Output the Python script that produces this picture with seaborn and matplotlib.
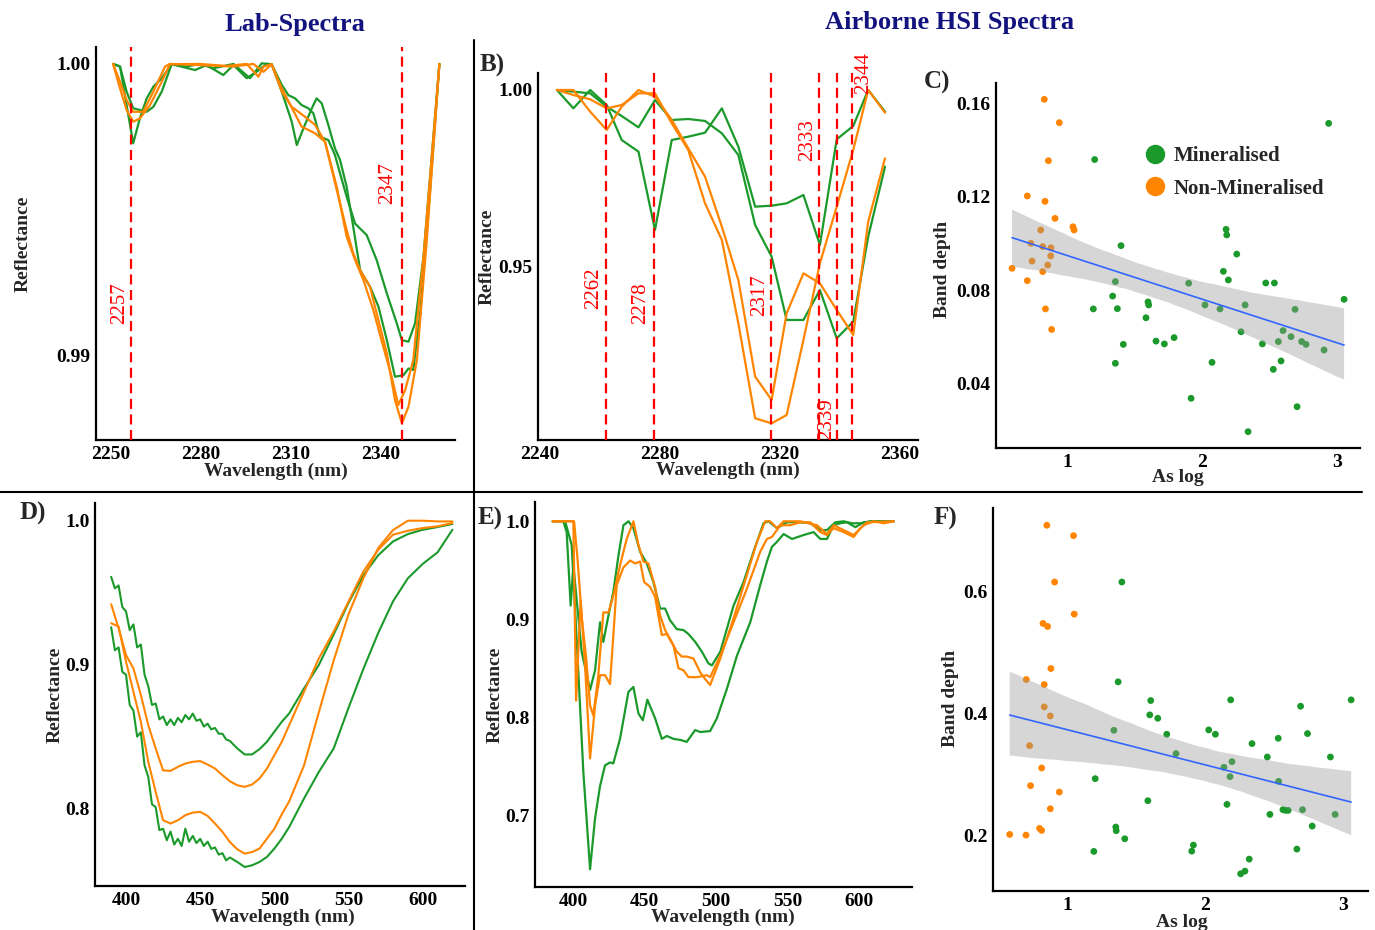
import matplotlib
matplotlib.use("Agg")
import matplotlib.pyplot as plt
from matplotlib.lines import Line2D
import numpy as np
import pandas as pd
import seaborn as sns

sns.set_style("white")
plt.rcParams["font.family"] = ["Liberation Serif", "DejaVu Serif"]
plt.rcParams["font.weight"] = "bold"
plt.rcParams["axes.labelweight"] = "bold"

GREEN = "#1b9a2b"
ORANGE = "#ff8500"
RED = "#ff0000"
NAVY = "#13137f"
BLUE = "#3366ff"

# ---------------- Panel A: lab spectra, SWIR (wavelength nm, reflectance) ----------------
A_GREEN_1 = [(2250.9, 0.99998), (2253.2, 0.99989), (2255.4, 0.99857), (2257.6, 0.99726), (2259.8, 0.99811),
             (2262.1, 0.99880), (2264.3, 0.99920), (2267.1, 0.99949), (2270.4, 0.99997), (2278.2, 0.99977),
             (2282.0, 0.99994), (2287.6, 0.99960), (2291.0, 0.99994), (2295.4, 0.99949), (2298.7, 0.99971),
             (2302.1, 0.99998), (2303.7, 0.99997), (2307.1, 0.99903), (2310.4, 0.99800), (2312.1, 0.99720),
             (2314.3, 0.99777), (2317.1, 0.99846), (2318.7, 0.99880), (2320.4, 0.99863), (2322.6, 0.99789),
             (2324.8, 0.99709), (2326.5, 0.99669), (2328.7, 0.99577), (2330.9, 0.99440), (2333.2, 0.99291),
             (2336.5, 0.99234), (2339.3, 0.99166), (2342.1, 0.99051), (2344.8, 0.98926), (2347.6, 0.98931),
             (2349.3, 0.98954), (2350.9, 0.98949), (2353.2, 0.99143), (2356.5, 0.99566), (2359.6, 0.99998)]
A_GREEN_2 = [(2250.9, 0.99998), (2253.2, 0.99989), (2255.4, 0.99903), (2257.6, 0.99846), (2262.1, 0.99834),
             (2264.3, 0.99851), (2267.1, 0.99903), (2270.4, 0.99997), (2275.4, 0.99989), (2279.8, 0.99998),
             (2284.3, 0.99983), (2291.0, 0.99998), (2296.5, 0.99949), (2298.2, 0.99971), (2300.4, 1.00000),
             (2303.7, 0.99997), (2307.1, 0.99926), (2309.3, 0.99891), (2311.5, 0.99880), (2313.7, 0.99857),
             (2315.9, 0.99846), (2317.6, 0.99829), (2319.8, 0.99749), (2322.6, 0.99737), (2324.8, 0.99686),
             (2326.5, 0.99623), (2328.7, 0.99543), (2331.5, 0.99451), (2335.4, 0.99411), (2338.7, 0.99326),
             (2342.1, 0.99211), (2345.4, 0.99109), (2347.1, 0.99051), (2349.3, 0.99046), (2351.5, 0.99109),
             (2354.3, 0.99337), (2359.6, 0.99998)]
A_ORANGE_1 = [(2250.9, 0.99998), (2253.2, 0.99914), (2255.4, 0.99840), (2257.6, 0.99800), (2259.8, 0.99811),
              (2263.2, 0.99857), (2267.1, 0.99937), (2269.8, 0.99997), (2279.8, 0.99998), (2288.7, 0.99991),
              (2295.4, 0.99998), (2299.3, 0.99954), (2301.0, 0.99989), (2303.7, 0.99997), (2307.1, 0.99903),
              (2310.4, 0.99851), (2314.8, 0.99817), (2318.2, 0.99789), (2321.5, 0.99731), (2325.4, 0.99577),
              (2328.7, 0.99406), (2331.5, 0.99326), (2334.3, 0.99257), (2337.6, 0.99154), (2340.9, 0.99029),
              (2343.7, 0.98926), (2345.9, 0.98829), (2348.2, 0.98880), (2350.9, 0.98983), (2354.3, 0.99337),
              (2359.6, 0.99998)]
A_ORANGE_2 = [(2250.9, 0.99998), (2253.2, 0.99937), (2255.4, 0.99874), (2257.6, 0.99834), (2260.9, 0.99834),
              (2264.3, 0.99903), (2268.2, 0.99989), (2269.8, 0.99998), (2279.8, 0.99994), (2291.0, 0.99989),
              (2297.6, 0.99998), (2301.0, 0.99971), (2303.7, 0.99997), (2307.1, 0.99914), (2313.7, 0.99783),
              (2318.2, 0.99760), (2321.5, 0.99731), (2325.4, 0.99566), (2328.7, 0.99429), (2330.9, 0.99349),
              (2333.2, 0.99291), (2336.5, 0.99234), (2338.7, 0.99143), (2342.1, 0.99006), (2344.8, 0.98846),
              (2347.1, 0.98766), (2349.3, 0.98823), (2352.1, 0.98983), (2355.4, 0.99394), (2359.6, 0.99998)]
A_FEATURES = [2257, 2347]

# ---------------- Panel B: airborne HSI spectra, SWIR ----------------
B_WL = [2245.6, 2251.1, 2256.7, 2262.2, 2267.2, 2272.8, 2278.3, 2283.9, 2289.4, 2295.0, 2300.6,
        2306.1, 2311.7, 2317.2, 2322.2, 2327.8, 2333.3, 2338.9, 2344.4, 2349.4, 2355.0]
B_GREEN_1 = [1.0, 0.99481, 1.0, 0.99575, 0.98585, 0.98255, 0.96038, 0.98585, 0.98679, 0.98792, 0.99481,
             0.98396, 0.96698, 0.96726, 0.96792, 0.97028, 0.95613, 0.98604, 0.98981, 1.0, 0.99387]
B_GREEN_2 = [1.0, 0.99953, 0.99906, 0.99528, 0.99264, 0.98943, 0.99717, 0.99151, 0.99179, 0.99123, 0.98774,
             0.98160, 0.96179, 0.95283, 0.93491, 0.93491, 0.94340, 0.92972, 0.93443, 0.95849, 0.97830]
B_ORANGE_1 = [1.0, 1.0, 0.99387, 0.98868, 0.99528, 1.0, 0.99811, 0.99151, 0.98349, 0.97547, 0.96132,
              0.94623, 0.91887, 0.91226, 0.93679, 0.94811, 0.94528, 0.93774, 0.93066, 0.96274, 0.98066]
B_ORANGE_2 = [1.0, 0.99858, 0.99736, 0.99481, 0.99575, 0.99906, 0.99906, 0.99057, 0.98302, 0.96792, 0.95755,
              0.93396, 0.90708, 0.90566, 0.90802, 0.92925, 0.95094, 0.96698, 0.98302, 1.0, 0.99358]
B_FEATURES = [2262, 2278, 2317, 2333, 2339, 2344]

# ---------------- Panels C and F: band depth vs As log ----------------
C_GREEN_X = [2.938, 1.205, 2.178, 2.183, 1.4, 2.257, 2.158, 2.195, 1.358, 1.901, 2.472, 2.536, 1.338, 3.052,
             1.6, 1.605, 2.022, 2.319, 1.195, 1.373, 2.133, 2.689, 1.585, 2.289, 2.6, 2.659, 1.793, 1.659,
             2.565, 2.738, 2.77, 1.721, 1.417, 2.447, 2.904, 1.358, 2.074, 2.585, 2.528, 1.919, 2.704, 2.341]
C_GREEN_Y = [0.1514, 0.1359, 0.106, 0.1036, 0.099, 0.0954, 0.088, 0.0843, 0.0836, 0.0829, 0.083, 0.083,
             0.0774, 0.076, 0.0749, 0.0736, 0.0736, 0.0736, 0.0719, 0.072, 0.0719, 0.0717, 0.0681, 0.0621,
             0.0626, 0.06, 0.0596, 0.0581, 0.0579, 0.0579, 0.0567, 0.0569, 0.0567, 0.0569, 0.0543, 0.0486,
             0.049, 0.0496, 0.046, 0.0336, 0.03, 0.0193]
C_ORANGE_X = [0.832, 0.943, 0.862, 0.706, 0.837, 0.911, 1.044, 1.052, 0.805, 0.733, 0.82, 0.881, 0.879,
              0.741, 0.857, 0.593, 0.82, 0.706, 0.84, 0.886]
C_ORANGE_Y = [0.1617, 0.1517, 0.1354, 0.1203, 0.118, 0.1107, 0.1071, 0.1057, 0.1057, 0.1, 0.0986, 0.0981,
              0.0946, 0.0924, 0.0907, 0.0893, 0.0879, 0.084, 0.0719, 0.0631]

F_GREEN_X = [1.398, 1.371, 1.607, 2.186, 3.058, 2.692, 1.6, 1.658, 1.34, 2.027, 1.723, 2.075, 2.742, 2.53,
             2.34, 1.79, 2.451, 2.908, 2.195, 2.137, 2.181, 1.205, 2.533, 1.586, 2.159, 2.564, 2.583, 2.602,
             2.706, 2.47, 2.942, 2.776, 1.354, 1.357, 1.419, 1.916, 1.195, 1.904, 2.665, 2.32, 2.289, 2.258]
F_GREEN_Y = [0.6148, 0.4514, 0.4208, 0.4219, 0.4219, 0.4115, 0.3973, 0.3918, 0.3721, 0.3727, 0.3656,
             0.3656, 0.3667, 0.359, 0.3503, 0.3339, 0.3284, 0.3284, 0.3208, 0.3115, 0.2962, 0.2929, 0.2885,
             0.2568, 0.2508, 0.2421, 0.241, 0.241, 0.2421, 0.2344, 0.2344, 0.2153, 0.2137, 0.2077, 0.1945,
             0.1842, 0.1738, 0.1743, 0.1776, 0.1612, 0.1415, 0.1372]
F_ORANGE_X = [0.855, 1.048, 0.911, 1.053, 0.827, 0.86, 0.884, 0.706, 0.836, 0.836, 0.88, 0.73, 0.817,
              0.737, 0.945, 0.88, 0.802, 0.817, 0.586, 0.704]
F_ORANGE_Y = [0.7077, 0.6907, 0.6148, 0.5623, 0.547, 0.5421, 0.4732, 0.4552, 0.447, 0.4104, 0.3956, 0.347,
              0.3104, 0.2814, 0.271, 0.2437, 0.2115, 0.2082, 0.2016, 0.2005]

# ---------------- Panel D: lab spectra, VNIR ----------------
D_WL_GREEN = [390, 392.5, 395, 397.5, 400, 402.5, 405, 407.5, 410, 412.5, 415, 417.5, 420, 422.5, 425, 427.5,
              430, 432.5, 435, 437.5, 440, 442.5, 445, 447.5, 450, 452.5, 455, 457.5, 460, 462.5, 465, 467.5,
              470, 475, 480, 485, 490, 495, 500, 505, 510, 520, 530, 540, 550, 560, 570, 580, 590, 600, 610, 620]
D_GREEN_1 = [0.961, 0.953, 0.955, 0.940, 0.937, 0.924, 0.928, 0.912, 0.914, 0.893, 0.885, 0.872, 0.873,
             0.862, 0.864, 0.858, 0.862, 0.858, 0.863, 0.860, 0.865, 0.862, 0.866, 0.861, 0.862, 0.857, 0.859,
             0.855, 0.856, 0.852, 0.852, 0.848, 0.847,
             0.8418, 0.8376, 0.8376, 0.8413, 0.8464, 0.8534, 0.8603, 0.8661, 0.8835, 0.8998, 0.9210, 0.9430,
             0.9620, 0.9760, 0.9856, 0.9907, 0.9937, 0.9956, 0.9977]
D_GREEN_2 = [0.926, 0.910, 0.912, 0.895, 0.893, 0.872, 0.868, 0.850, 0.853, 0.830, 0.822, 0.803, 0.801,
             0.785, 0.786, 0.778, 0.784, 0.775, 0.779, 0.774, 0.786, 0.777, 0.781, 0.776, 0.779, 0.774, 0.777,
             0.772, 0.773, 0.768, 0.769, 0.764, 0.766,
             0.7629, 0.7594, 0.7606, 0.7629, 0.7664, 0.7722, 0.7791, 0.7872, 0.8070, 0.8255, 0.8418, 0.8700,
             0.8970, 0.9220, 0.9440, 0.9600, 0.9700, 0.9780, 0.9937]
D_WL_ORANGE = [390, 395, 400, 405, 410, 415, 420, 425, 430, 435, 440, 445, 450, 455, 460, 465, 470, 475, 480,
               485, 490, 495, 500, 505, 510, 520, 530, 540, 550, 560, 570, 580, 590, 600, 610, 620]
D_ORANGE_1 = [0.9420, 0.9253, 0.9067, 0.8974, 0.8789, 0.8580, 0.8418, 0.8265, 0.8262, 0.8290, 0.8313, 0.8325,
              0.8330, 0.8306, 0.8278, 0.8232, 0.8190, 0.8162, 0.8151, 0.8167, 0.8209, 0.8278, 0.8371, 0.8464,
              0.8580, 0.8812, 0.9044, 0.9230, 0.9439, 0.9647, 0.9798, 0.9903, 0.9930, 0.9949, 0.9961, 0.9984]
D_ORANGE_2 = [0.9288, 0.9265, 0.9021, 0.8812, 0.8603, 0.8325, 0.8116, 0.7919, 0.7896, 0.7919, 0.7954, 0.7972,
              0.7977, 0.7949, 0.7896, 0.7838, 0.7768, 0.7717, 0.7687, 0.7698, 0.7722, 0.7791, 0.7860, 0.7960,
              0.8050, 0.8300, 0.8670, 0.9030, 0.9350, 0.9600, 0.9810, 0.9935, 1.0000, 1.0000, 0.9995, 0.9995]

# ---------------- Panel E: airborne HSI spectra, VNIR ----------------
E_GREEN_1 = [(385.5, 1.0), (393.0, 1.0), (395.3, 0.989), (398.1, 0.914), (400.0, 0.955), (405.8, 0.867),
             (411.7, 0.828), (415.2, 0.848), (418.7, 0.897), (421.0, 0.877), (424.6, 0.904), (428.0, 0.928),
             (431.6, 0.965), (435.1, 0.996), (438.6, 1.0), (442.1, 0.993), (446.8, 0.969), (451.5, 0.957),
             (456.1, 0.938), (460.8, 0.911), (464.3, 0.911), (467.8, 0.899), (472.5, 0.890), (477.2, 0.889),
             (480.7, 0.885), (485.4, 0.877), (490.1, 0.867), (494.7, 0.855), (497.1, 0.853), (503.0, 0.867),
             (512.3, 0.914), (519.3, 0.938), (526.3, 0.969), (533.3, 0.998), (536.8, 1.0), (542.7, 0.993),
             (549.7, 0.999), (559.1, 0.999), (566.1, 0.998), (573.1, 0.991), (577.8, 0.991), (583.6, 0.999),
             (589.5, 1.0), (595.3, 0.998), (601.2, 0.998), (608.2, 1.0), (624.6, 1.0)]
E_GREEN_2 = [(385.5, 1.0), (394.2, 1.0), (398.8, 0.976), (402.3, 0.880), (407.0, 0.744), (411.7, 0.645),
             (415.2, 0.697), (418.7, 0.730), (422.2, 0.751), (425.7, 0.754), (428.0, 0.753), (432.7, 0.778),
             (438.6, 0.826), (442.1, 0.831), (445.6, 0.804), (448.7, 0.797), (451.9, 0.818), (457.3, 0.799),
             (462.0, 0.778), (465.5, 0.781), (470.2, 0.778), (474.9, 0.777), (479.5, 0.775), (485.4, 0.787),
             (488.9, 0.785), (495.9, 0.786), (500.6, 0.799), (507.6, 0.829), (514.7, 0.863), (524.0, 0.897),
             (531.0, 0.935), (535.7, 0.959), (539.2, 0.974), (542.7, 0.979), (547.4, 0.987), (553.3, 0.982),
             (561.4, 0.986), (568.4, 0.989), (573.1, 0.982), (577.8, 0.982), (582.5, 0.996), (587.1, 0.998),
             (591.8, 0.999), (597.7, 0.994), (603.5, 0.999), (610.5, 1.0), (624.6, 1.0)]
E_ORANGE_1 = [(385.5, 1.0), (400.5, 1.0), (403.0, 0.960), (406.0, 0.900), (409.0, 0.860), (411.7, 0.812),
              (414.0, 0.802), (417.5, 0.843), (421.0, 0.907), (424.6, 0.907), (428.0, 0.924), (432.7, 0.955),
              (437.4, 0.982), (442.1, 1.0), (445.6, 0.976), (449.1, 0.959), (452.6, 0.957), (457.3, 0.933),
              (460.8, 0.904), (464.3, 0.889), (467.8, 0.880), (472.5, 0.867), (476.0, 0.862), (479.5, 0.862),
              (484.2, 0.860), (488.9, 0.846), (492.4, 0.839), (495.9, 0.833), (503.0, 0.860), (512.3, 0.901),
              (521.6, 0.945), (528.7, 0.979), (534.5, 1.0), (538.0, 1.0), (542.7, 0.993), (547.4, 1.0),
              (559.1, 1.0), (570.8, 0.996), (577.8, 0.987), (582.5, 0.996), (589.5, 0.991), (596.5, 0.986),
              (603.5, 0.996), (610.5, 1.0), (617.5, 0.998), (624.6, 1.0)]
E_ORANGE_2 = [(385.5, 1.0), (400.0, 1.0), (401.9, 0.817), (405.1, 0.919), (408.2, 0.853), (411.7, 0.758),
              (415.2, 0.812), (418.7, 0.843), (422.2, 0.843), (425.7, 0.834), (430.4, 0.935), (435.1, 0.953),
              (439.8, 0.960), (443.3, 0.957), (446.8, 0.959), (449.6, 0.938), (453.8, 0.933), (457.3, 0.923),
              (462.0, 0.884), (465.5, 0.885), (470.2, 0.873), (473.7, 0.850), (477.2, 0.848), (480.7, 0.841),
              (486.6, 0.841), (493.6, 0.843), (495.9, 0.841), (503.0, 0.863), (512.3, 0.897), (521.6, 0.931),
              (531.0, 0.969), (535.7, 0.982), (539.2, 0.984), (545.1, 0.996), (552.0, 0.996), (559.1, 0.999),
              (566.1, 0.999), (573.1, 0.989), (577.8, 0.986), (582.5, 0.993), (589.5, 0.989), (596.5, 0.984),
              (601.2, 0.993), (605.9, 0.999), (624.6, 1.0)]

# ------------------------------------------------------------------------------------------
W, H = 1375, 930
fig = plt.figure(figsize=(W / 100, H / 100), dpi=100)


def px_axes(left, top, right, bottom):
    return fig.add_axes([left / W, 1 - bottom / H, (right - left) / W, (bottom - top) / H])


def spectra_frame(curves):
    rows = []
    for name, pairs in curves.items():
        for wl, r in pairs:
            rows.append((name, wl, r))
    return pd.DataFrame(rows, columns=["curve", "wl", "refl"])


def draw_spectra(ax, curves, colors, lw=1.6):
    df = spectra_frame(curves)
    sns.lineplot(data=df, x="wl", y="refl", hue="curve", hue_order=list(curves), palette=colors,
                 estimator=None, sort=False, legend=False, lw=lw, ax=ax)


def style(ax, xlim, ylim, xticks, xlabels, yticks, ylabels, xlab, ylab, xlc, ylc):
    ax.set_xlim(*xlim)
    ax.set_ylim(*ylim)
    ax.set_xticks(xticks)
    ax.set_xticklabels(xlabels)
    ax.set_yticks(yticks)
    ax.set_yticklabels(ylabels)
    for s in ["top", "right"]:
        ax.spines[s].set_visible(False)
    for s in ["left", "bottom"]:
        ax.spines[s].set_linewidth(1.6)
        ax.spines[s].set_color("black")
    ax.tick_params(axis="both", length=2.5, width=1, colors="black", labelsize=14, pad=1.5)
    ax.set_xlabel(xlab, fontsize=14, fontweight="bold", va="center")
    ax.set_ylabel(ylab, fontsize=14, fontweight="bold", va="center")
    ax.xaxis.set_label_coords(*xlc)
    ax.yaxis.set_label_coords(*ylc)
    ax.set_facecolor("white")
    ax.grid(False)


dash = (0, (4.5, 2.5))
COLORS4 = {"g1": GREEN, "g2": GREEN, "o1": ORANGE, "o2": ORANGE}

# ---- Panel A ----
axA = px_axes(96, 47, 455, 440)
draw_spectra(axA, {"g1": A_GREEN_1, "g2": A_GREEN_2, "o1": A_ORANGE_1, "o2": A_ORANGE_2}, COLORS4)
for v in A_FEATURES:
    axA.axvline(v, color=RED, lw=1.6, ls=dash, zorder=3)
axA.text(2253.2, 0.99178, "2257", rotation=90, color=RED, fontsize=15, fontweight="normal",
         ha="center", va="center")
axA.text(2342.2, 0.99589, "2347", rotation=90, color=RED, fontsize=15, fontweight="normal",
         ha="center", va="center")
style(axA, (2245.2, 2364.8), (0.98709, 1.00056), [2250, 2280, 2310, 2340],
      ["2250", "2280", "2310", "2340"], [0.99, 1.00], ["0.99", "1.00"],
      "Wavelength (nm)", "Reflectance", (0.5, -0.079), (-0.203, 0.5))

# ---- Panel B ----
axB = px_axes(538, 73, 918, 440)
draw_spectra(axB, {"g1": list(zip(B_WL, B_GREEN_1)), "g2": list(zip(B_WL, B_GREEN_2)),
                   "o1": list(zip(B_WL, B_ORANGE_1)), "o2": list(zip(B_WL, B_ORANGE_2))}, COLORS4)
for v in B_FEATURES:
    axB.axvline(v, color=RED, lw=1.6, ls=dash, zorder=3)
b_label_pos = {"2262": (2257.7, 0.944), "2278": (2273.6, 0.9396), "2317": (2313.3, 0.942),
               "2333": (2329.1, 0.9858), "2339": (2335.6, 0.9068), "2344": (2347.8, 1.0047)}
for txt, (lx, ly) in b_label_pos.items():
    axB.text(lx, ly, txt, rotation=90, color=RED, fontsize=15, fontweight="normal",
             ha="center", va="center", clip_on=False)
style(axB, (2239.3, 2366.0), (0.90094, 1.00481), [2240, 2280, 2320, 2360],
      ["2240", "2280", "2320", "2360"], [0.95, 1.00], ["0.95", "1.00"],
      "Wavelength (nm)", "Reflectance", (0.5, -0.082), (-0.134, 0.499))


# ---- Panels C and F ----
def draw_scatter(ax, gx, gy, ox, oy):
    df = pd.DataFrame({"as_log": list(gx) + list(ox), "depth": list(gy) + list(oy),
                       "group": ["Mineralised"] * len(gx) + ["Non-Mineralised"] * len(ox)})
    sns.scatterplot(data=df, x="as_log", y="depth", hue="group",
                    hue_order=["Mineralised", "Non-Mineralised"],
                    palette={"Mineralised": GREEN, "Non-Mineralised": ORANGE},
                    s=24, linewidth=0, legend=False, ax=ax)
    n_before = len(ax.collections)
    sns.regplot(data=df, x="as_log", y="depth", scatter=False, ci=95, n_boot=2000, seed=7,
                color=BLUE, line_kws=dict(lw=1.2), ax=ax)
    for coll in ax.collections[n_before:]:
        coll.set_facecolor("#999999")
        coll.set_edgecolor("none")
        coll.set_alpha(0.4)


axC = px_axes(996, 83, 1360, 448)
draw_scatter(axC, C_GREEN_X, C_GREEN_Y, C_ORANGE_X, C_ORANGE_Y)
style(axC, (0.474, 3.17), (0.0123, 0.1687), [1, 2, 3], ["1", "2", "3"],
      [0.04, 0.08, 0.12, 0.16], ["0.04", "0.08", "0.12", "0.16"],
      "As log", "Band depth", (0.5, -0.082), (-0.148, 0.488))
handles = [Line2D([], [], ls="none", marker="o", ms=14, mfc=GREEN, mec="none", label="Mineralised"),
           Line2D([], [], ls="none", marker="o", ms=14, mfc=ORANGE, mec="none", label="Non-Mineralised")]
axC.legend(handles=handles, loc="upper left", bbox_to_anchor=(0.409, 0.827), frameon=False,
           prop={"size": 15, "weight": "bold"}, handlelength=1.0, handletextpad=0.4,
           labelspacing=0.6, borderpad=0, borderaxespad=0)

axF = px_axes(993, 508, 1368, 891)
draw_scatter(axF, F_GREEN_X, F_GREEN_Y, F_ORANGE_X, F_ORANGE_Y)
style(axF, (0.465, 3.18), (0.109, 0.736), [1, 2, 3], ["1", "2", "3"],
      [0.2, 0.4, 0.6], ["0.2", "0.4", "0.6"],
      "As log", "Band depth", (0.504, -0.081), (-0.114, 0.504))

# ---- Panel D ----
axD = px_axes(95, 503, 465, 886)
draw_spectra(axD, {"g1": list(zip(D_WL_GREEN, D_GREEN_1)), "g2": list(zip(D_WL_GREEN, D_GREEN_2)),
                   "o1": list(zip(D_WL_ORANGE, D_ORANGE_1)), "o2": list(zip(D_WL_ORANGE, D_ORANGE_2))},
             COLORS4, lw=1.5)
style(axD, (379.1, 628.5), (0.7462, 1.0123), [400, 450, 500, 550, 600],
      ["400", "450", "500", "550", "600"], [0.8, 0.9, 1.0], ["0.8", "0.9", "1.0"],
      "Wavelength (nm)", "Reflectance", (0.508, -0.081), (-0.108, 0.499))

# ---- Panel E ----
axE = px_axes(535, 502, 912, 887)
draw_spectra(axE, {"g1": E_GREEN_1, "g2": E_GREEN_2, "o1": E_ORANGE_1, "o2": E_ORANGE_2}, COLORS4)
style(axE, (373.1, 637.4), (0.6269, 1.0197), [400, 450, 500, 550, 600],
      ["400", "450", "500", "550", "600"], [0.7, 0.8, 0.9, 1.0], ["0.7", "0.8", "0.9", "1.0"],
      "Wavelength (nm)", "Reflectance", (0.499, -0.078), (-0.106, 0.499))

# ---- titles, panel letters, dividers ----
fig.text(295 / W, 1 - 25 / H, "Lab-Spectra", color=NAVY, fontsize=19, fontweight="bold",
         ha="center", va="center")
fig.text(950 / W, 1 - 22 / H, "Airborne HSI Spectra", color=NAVY, fontsize=19, fontweight="bold",
         ha="center", va="center")
for letter, (lx, ly) in {"B)": (492, 65), "C)": (937, 82), "D)": (33, 513),
                         "E)": (490, 518), "F)": (945, 518)}.items():
    fig.text(lx / W, 1 - ly / H, letter, fontsize=18, fontweight="bold", ha="center", va="center")

fig.add_artist(Line2D([0, 1362 / W], [1 - 492 / H, 1 - 492 / H], transform=fig.transFigure,
                      color="black", lw=1.5))
fig.add_artist(Line2D([474 / W, 474 / W], [1 - 40 / H, 0], transform=fig.transFigure,
                      color="black", lw=1.5))

fig.savefig("out.png", dpi=100, facecolor="white")
